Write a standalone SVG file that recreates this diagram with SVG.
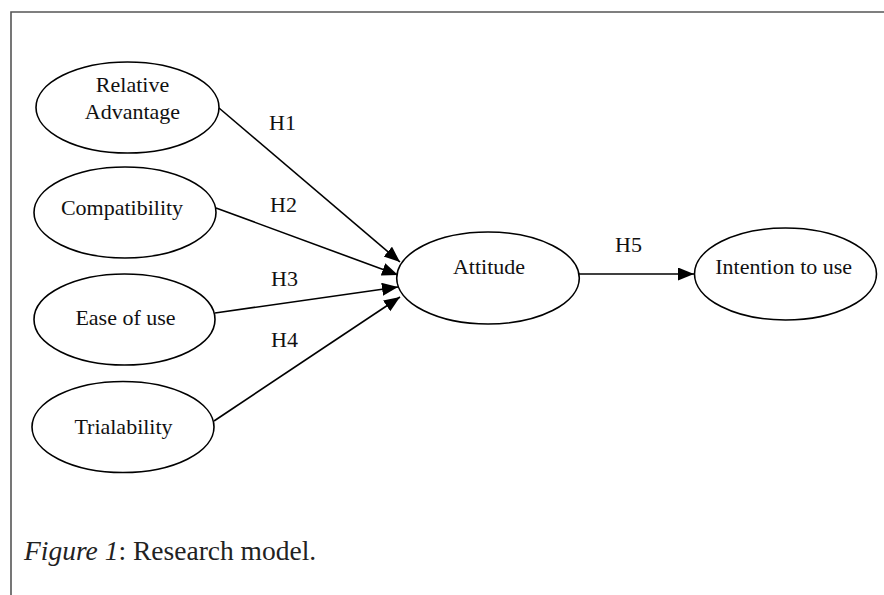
<svg xmlns="http://www.w3.org/2000/svg" width="884" height="595" viewBox="0 0 884 595">
<defs>
<style>
.node ellipse{fill:#fff;stroke:#000;stroke-width:1.6}
.node text{font-family:"Liberation Serif","Times New Roman",serif;font-size:22px;fill:#111;text-anchor:middle}
.lbl{font-family:"Liberation Serif","Times New Roman",serif;font-size:22px;fill:#111}
.edges line{stroke:#000;stroke-width:1.6;marker-end:url(#arr)}
.cap{font-family:"Liberation Serif","Times New Roman",serif;font-size:27.5px;fill:#222}
</style>
<marker id="arr" markerUnits="userSpaceOnUse" markerWidth="17" markerHeight="14" refX="16" refY="6.5" orient="auto">
<path d="M0,0 L16,6.5 L0,13 z" fill="#000"/>
</marker>
</defs>
<rect width="884" height="595" fill="#fff"/>
<path d="M11,595 L11,12 L884,12" fill="none" stroke="#555" stroke-width="1.6"/>
<g class="edges">
<line x1="219" y1="108" x2="400" y2="262"/>
<line x1="216" y1="208" x2="398" y2="275"/>
<line x1="215" y1="313" x2="398" y2="287"/>
<line x1="214" y1="421" x2="400" y2="297"/>
<line x1="579" y1="274" x2="694" y2="274"/>
</g>
<g id="labels">
<text class="lbl" x="269" y="130">H1</text>
<text class="lbl" x="270" y="212">H2</text>
<text class="lbl" x="271" y="286">H3</text>
<text class="lbl" x="271" y="347">H4</text>
<text class="lbl" x="615" y="252">H5</text>
</g>
<g id="relative-advantage" class="node">
<ellipse cx="127.5" cy="107.5" rx="91.5" ry="45.5"/>
<text x="132.5" y="92">Relative</text>
<text x="132.5" y="119">Advantage</text>
</g>
<g id="compatibility" class="node">
<ellipse cx="125" cy="212.5" rx="91" ry="45.5"/>
<text x="122" y="215">Compatibility</text>
</g>
<g id="ease-of-use" class="node">
<ellipse cx="124.5" cy="319.5" rx="90.5" ry="45.5"/>
<text x="125.5" y="325">Ease of use</text>
</g>
<g id="trialability" class="node">
<ellipse cx="123" cy="427" rx="91" ry="45.5"/>
<text x="123.5" y="434">Trialability</text>
</g>
<g id="attitude" class="node">
<ellipse cx="488" cy="278" rx="91.3" ry="46"/>
<text x="489" y="274">Attitude</text>
</g>
<g id="intention-to-use" class="node">
<ellipse cx="785.5" cy="274" rx="91" ry="46"/>
<text x="783.7" y="274">Intention to use</text>
</g>
<text class="cap" x="24" y="560"><tspan font-style="italic">Figure 1</tspan>: Research model.</text>
</svg>
